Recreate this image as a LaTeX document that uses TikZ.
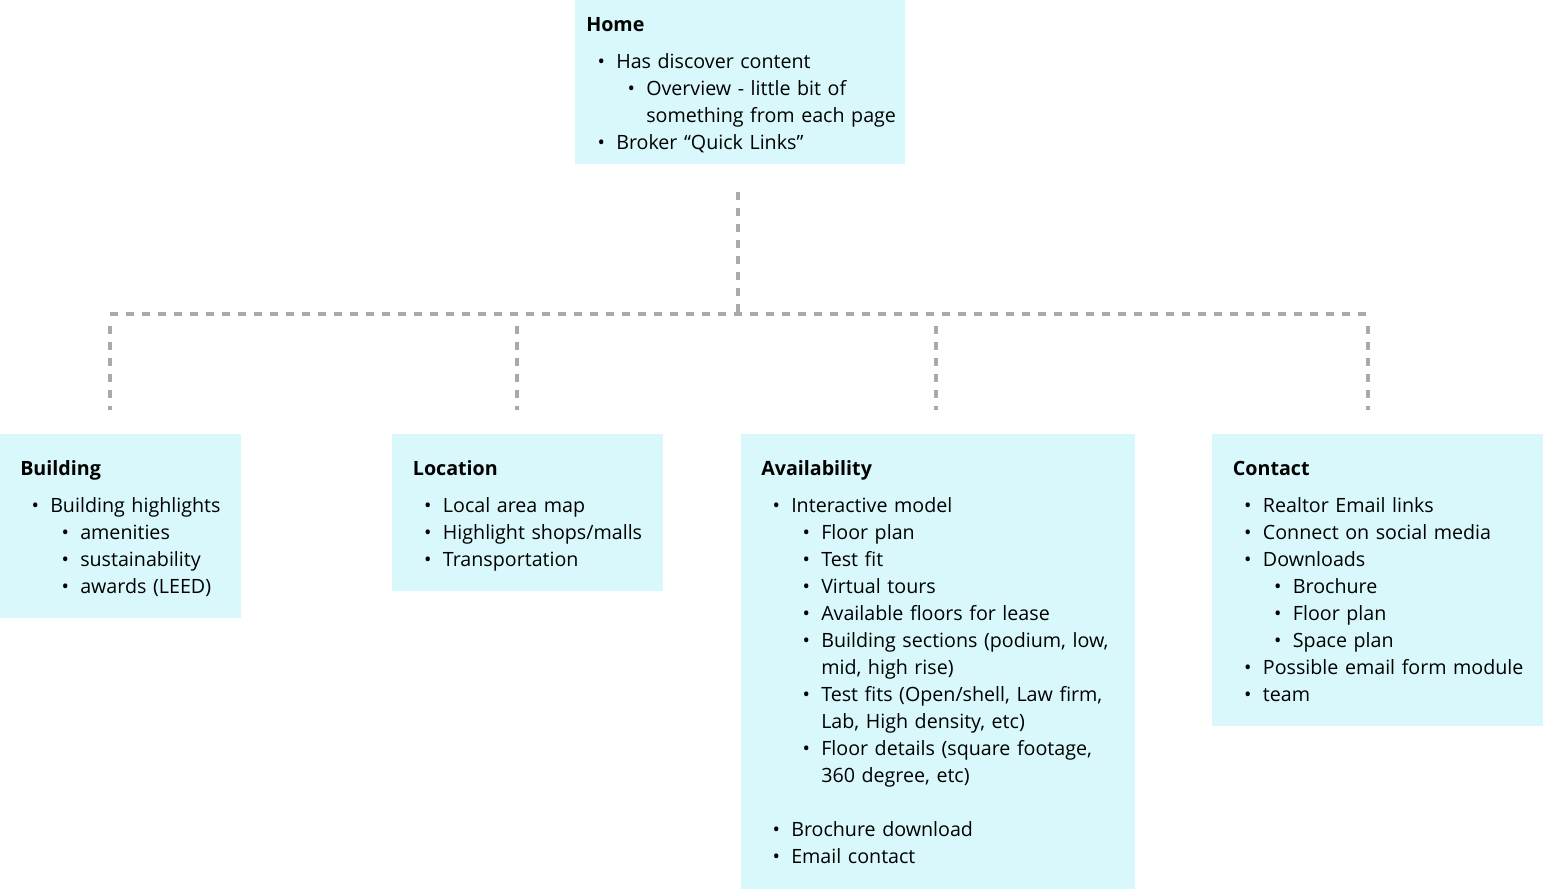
\documentclass[tikz,border=0pt]{standalone}
\usepackage{fontspec}
\setmainfont{Open Sans}
\definecolor{boxfill}{RGB}{216,248,252}
\definecolor{linkgray}{RGB}{170,170,170}
\newlength{\pad}
\newcommand{\hd}[1]{\noindent\hspace*{\pad}\textbf{#1}\par\vspace{7.5pt}}
\newcommand{\itm}[1]{\par\leftskip=\dimexpr\pad+22.5pt\relax\noindent\llap{\makebox[22.5pt]{•}}#1}
\newcommand{\sitm}[1]{\par\leftskip=\dimexpr\pad+45pt\relax\noindent\llap{\makebox[22.5pt]{•}}#1}
% end of a box; the kern nudges the text down
\newcommand{\fin}[1]{\par\kern-#1}
\tikzset{
  box/.style={fill=boxfill, inner sep=0pt, anchor=north west, align=left,
    font=\fontsize{14.75}{20.25}\selectfont, execute at begin node={\setlength{\pad}{#1}}},
  link/.style={draw=linkgray, line width=3pt, dash pattern=on 6pt off 6pt}
}
\begin{document}
\begin{tikzpicture}[x=0.75pt, y=-0.75pt]
  \useasboundingbox (0,0) rectangle (1543,889);

  \node[box=8.25pt, text width=247.5pt, minimum height=123pt] (home) at (575,0)
    {\hd{Home}\itm{Has discover content}\sitm{Overview - little bit of\\something from each page}\itm{Broker “Quick Links”}\fin{4.5pt}};

  \node[box=15pt, text width=180.75pt, minimum height=138pt] (bldg) at (0,434)
    {\hd{Building}\itm{Building highlights}\sitm{amenities}\sitm{sustainability}\sitm{awards (LEED)}\fin{3pt}};
  \node[box=15.5pt, text width=203.25pt, minimum height=117.75pt] (loc) at (392,434)
    {\hd{Location}\itm{Local area map}\itm{Highlight shops/malls}\itm{Transportation}\fin{5.25pt}};
  \node[box=15pt, text width=295.5pt, minimum height=341.25pt] (avail) at (741,434)
    {\hd{Availability}\itm{Interactive model}\sitm{Floor plan}\sitm{Test fit}\sitm{Virtual tours}%
     \sitm{Available floors for lease}\sitm{Building sections (podium, low,\\mid, high rise)}%
     \sitm{Test fits (Open/shell, Law firm,\\Lab, High density, etc)}%
     \sitm{Floor details (square footage,\\360 degree, etc)}\par\vspace{\baselineskip}%
     \itm{Brochure download}\itm{Email contact}\fin{0pt}};
  \node[box=15.5pt, text width=248.25pt, minimum height=219pt] (cont) at (1212,434)
    {\hd{Contact}\itm{Realtor Email links}\itm{Connect on social media}\itm{Downloads}%
     \sitm{Brochure}\sitm{Floor plan}\sitm{Space plan}\itm{Possible email form module}\itm{team}\fin{1.5pt}};

  % tree lines
  \coordinate (hubtop) at (738,192);
  \coordinate (hub) at (738,314);
  \coordinate (busw) at (110,314);
  \coordinate (buse) at (1368,314);
  \draw[link] (hubtop) -- (hub);
  \draw[link] (busw) -- (buse);
  \foreach \n/\x in {bldg/110, loc/517, avail/936, cont/1368}
    \draw[link, shorten >=18pt] (\x,326) -- (\x,326 |- \n.north);
\end{tikzpicture}
\end{document}
